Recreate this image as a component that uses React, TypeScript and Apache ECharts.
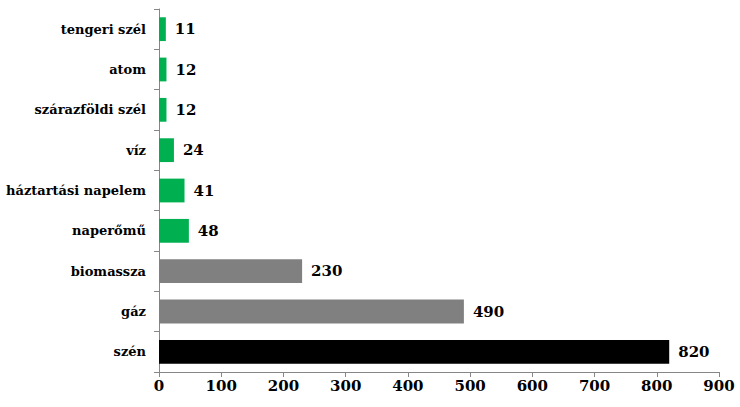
import React, { useEffect, useRef } from "react";
import * as echarts from "echarts";

const categories = ["szén", "gáz", "biomassza", "naperőmű", "háztartási napelem", "víz", "szárazföldi szél", "atom", "tengeri szél"];
const values = [820, 490, 230, 48, 41, 24, 12, 12, 11];
const barColors = ["#000000", "#808080", "#808080", "#00b050", "#00b050", "#00b050", "#00b050", "#00b050", "#00b050"];
const xTicks = { min: 0, max: 900, interval: 100 };

const FONT = "'DejaVu Serif', serif";

export default function App() {
  const ref = useRef<HTMLDivElement>(null);
  useEffect(() => {
    if (!ref.current) return;
    const chart = echarts.init(ref.current, undefined, { renderer: "svg" });
    chart.setOption({
      animation: false,
      textStyle: { fontFamily: FONT, fontWeight: "bold" },
      grid: { left: 159, right: 21, top: 9, bottom: 35, containLabel: false },
      xAxis: {
        type: "value",
        min: xTicks.min,
        max: xTicks.max,
        interval: xTicks.interval,
        splitLine: { show: false },
        axisLine: { show: true, lineStyle: { color: "#868686", width: 1 } },
        axisTick: { show: true, length: 5, lineStyle: { color: "#868686" } },
        axisLabel: { color: "#000", fontFamily: FONT, fontWeight: "bold", fontSize: 15, margin: 6 },
      },
      yAxis: {
        type: "category",
        data: categories,
        axisLine: { show: true, lineStyle: { color: "#868686", width: 1 } },
        axisTick: { show: true, length: 5, lineStyle: { color: "#868686" } },
        axisLabel: { color: "#000", fontFamily: FONT, fontWeight: "bold", fontSize: 13, margin: 13 },
      },
      series: [
        {
          type: "bar",
          data: values.map((v, i) => ({ value: v, itemStyle: { color: barColors[i] } })),
          barCategoryGap: "41%",
          label: {
            show: true,
            position: "right",
            distance: 9,
            color: "#000",
            fontFamily: FONT,
            fontWeight: "bold",
            fontSize: 15,
          },
        },
      ],
    });
    return () => chart.dispose();
  }, []);
  return <div ref={ref} style={{ width: 740, height: 407, position: "absolute", left: 0, top: 0 }} />;
}
